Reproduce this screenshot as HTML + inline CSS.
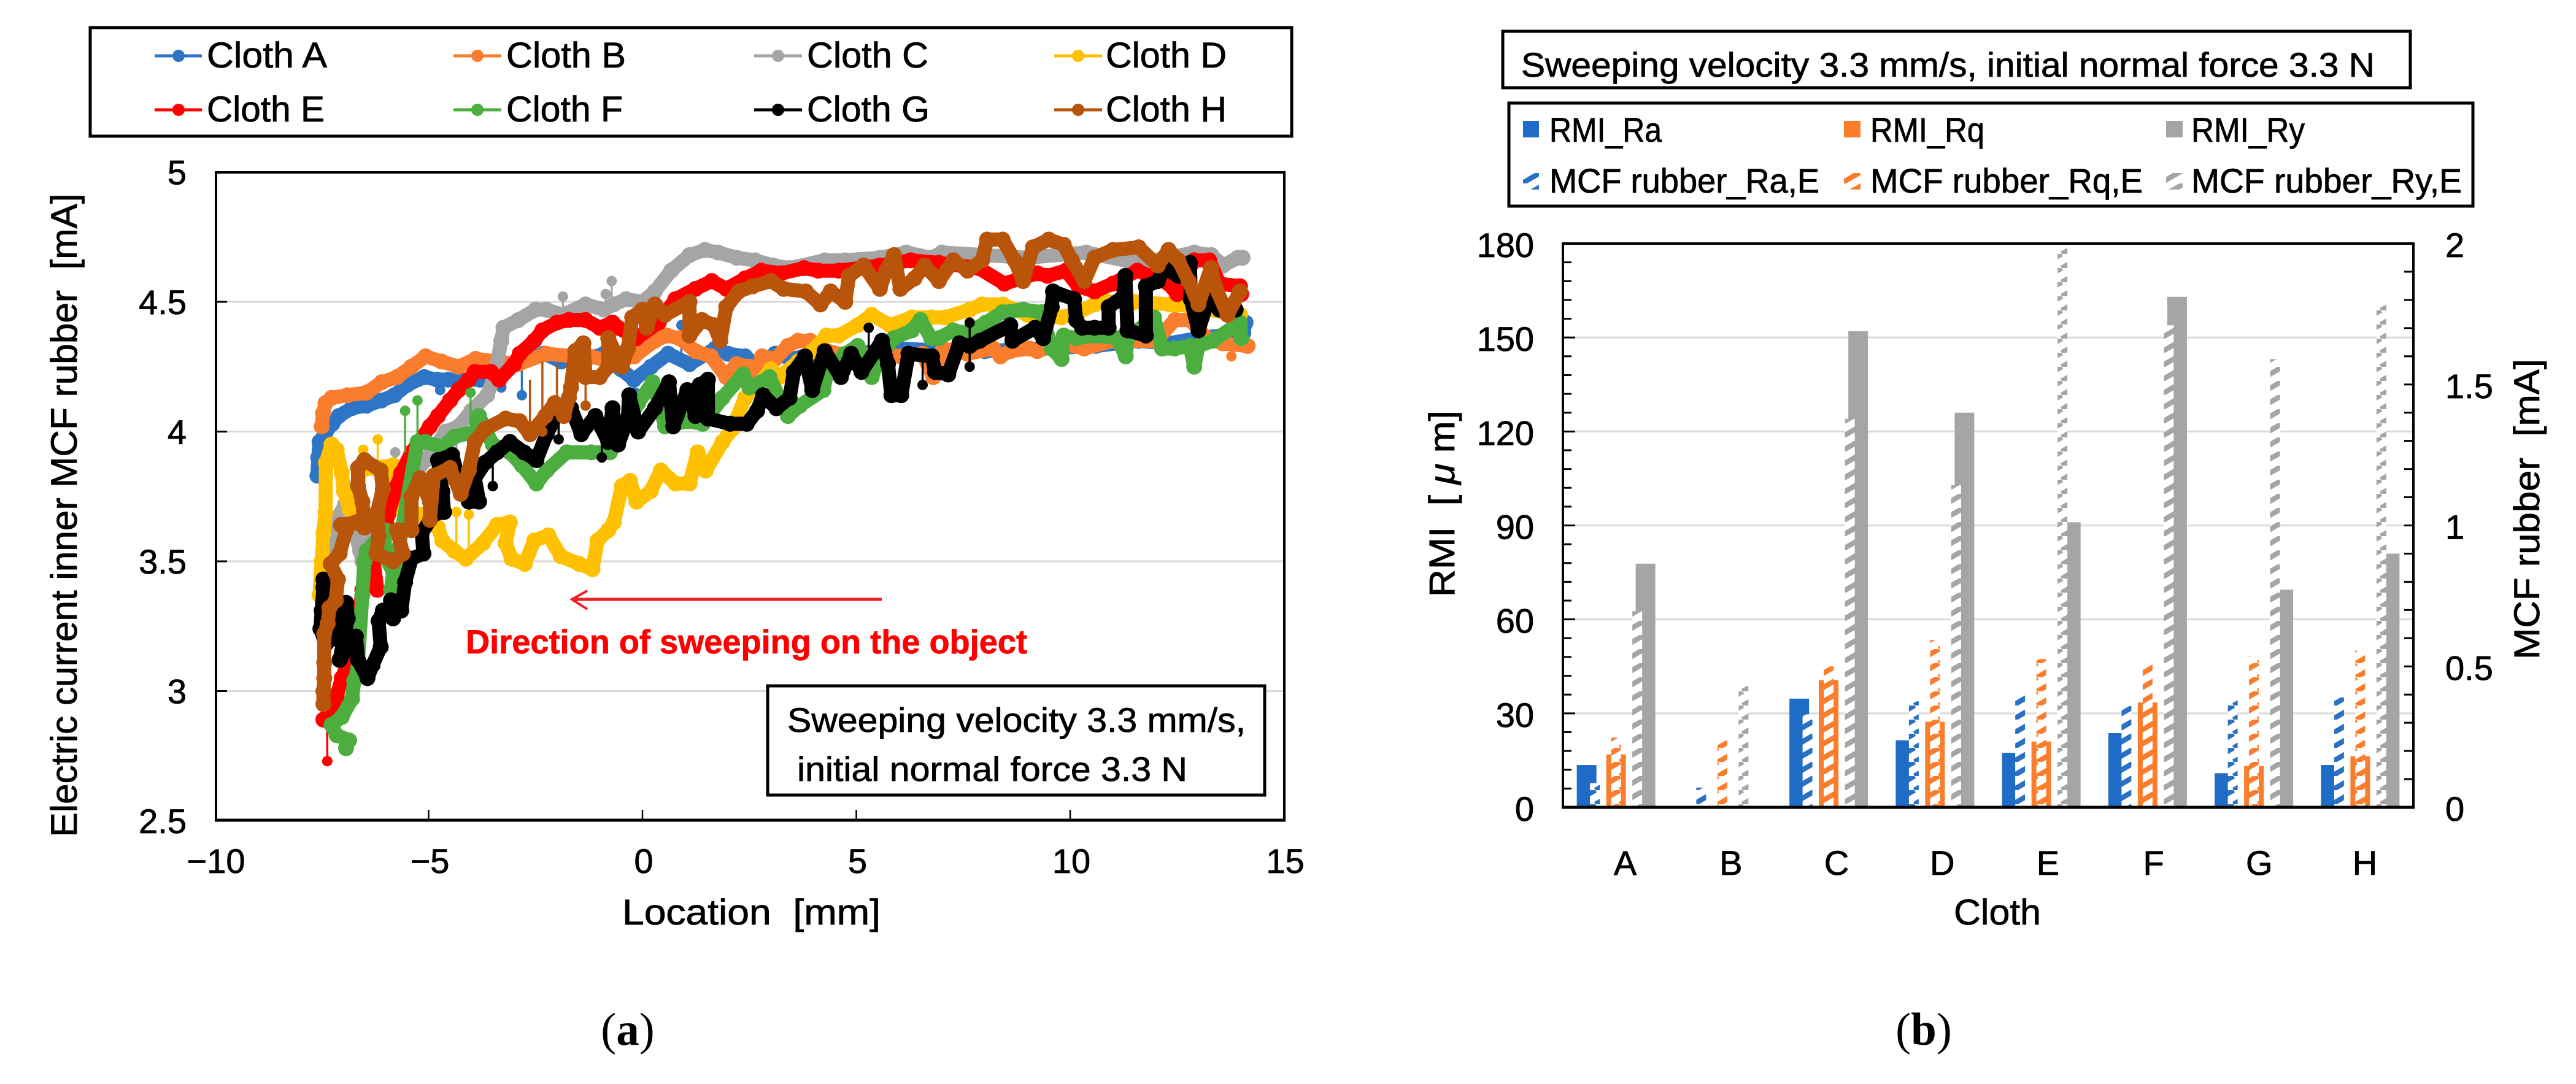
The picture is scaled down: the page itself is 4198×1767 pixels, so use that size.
<!DOCTYPE html>
<html lang="en">
<head>
<meta charset="utf-8">
<title>Cloth sweeping: MCF rubber current and RMI</title>
<style>
html,body{margin:0;padding:0;background:#fff;}
svg{display:block;}
text{font-family:"Liberation Sans",sans-serif;fill:#000;stroke:#000;stroke-width:0.8px;}
.tick{font-size:56px;}
.leg{font-size:58px;}
.legb{font-size:56px;}
.cap{font-family:"Liberation Serif",serif;font-size:75px;stroke-width:0;}
</style>
</head>
<body>
<svg id="figure" xmlns="http://www.w3.org/2000/svg" width="4198" height="1767" viewBox="0 0 4198 1767">
<defs>
<pattern id="hatch-blue" patternUnits="userSpaceOnUse" width="40" height="23"><rect width="40" height="23" fill="#fff"/><path d="M0 23L40 0M-40 23L0 0M40 23L80 0" stroke="#2a70c4" stroke-width="8.5"/></pattern>
<pattern id="hatch-orange" patternUnits="userSpaceOnUse" width="40" height="23"><rect width="40" height="23" fill="#fff"/><path d="M0 23L40 0M-40 23L0 0M40 23L80 0" stroke="#f97d2c" stroke-width="8.5"/></pattern>
<pattern id="hatch-gray" patternUnits="userSpaceOnUse" width="40" height="23"><rect width="40" height="23" fill="#fff"/><path d="M0 23L40 0M-40 23L0 0M40 23L80 0" stroke="#a5a5a5" stroke-width="8.5"/></pattern>
</defs>
<rect width="4198" height="1767" fill="#fff"/>

<!-- Panel (a) -->
<g id="a-grid"></g>
<g id="a-series"></g>
<rect x="352" y="281" width="1741" height="1056" fill="none" stroke="#000" stroke-width="4"/>
<line x1="350" y1="1337" x2="2095" y2="1337" stroke="#000" stroke-width="5"/>
<g id="a-ticks"></g>
<text transform="rotate(-90 125 840)" x="125" y="840" text-anchor="middle" font-size="60" textLength="1049" lengthAdjust="spacingAndGlyphs" style="font-size:60px">Electric current inner MCF rubber &#160;[mA]</text>
<text x="1014" y="1507" font-size="58" textLength="421" lengthAdjust="spacingAndGlyphs" style="font-size:58px">Location &#160;[mm]</text>

<g>
<rect x="147" y="45" width="1958" height="177" fill="#fff" stroke="#000" stroke-width="5"/>
<g><line x1="252" y1="91" x2="329" y2="91" stroke="#2e75c6" stroke-width="5"/><circle cx="291" cy="91" r="10" fill="#2e75c6"/><text class="leg" x="337" y="110" textLength="196" lengthAdjust="spacingAndGlyphs">Cloth A</text></g>
<g><line x1="739" y1="91" x2="817" y2="91" stroke="#f97d2c" stroke-width="5"/><circle cx="778" cy="91" r="10" fill="#f97d2c"/><text class="leg" x="825" y="110" textLength="195" lengthAdjust="spacingAndGlyphs">Cloth B</text></g>
<g><line x1="1229" y1="91" x2="1307" y2="91" stroke="#a5a5a5" stroke-width="5"/><circle cx="1268" cy="91" r="10" fill="#a5a5a5"/><text class="leg" x="1315" y="110" textLength="198" lengthAdjust="spacingAndGlyphs">Cloth C</text></g>
<g><line x1="1718" y1="91" x2="1796" y2="91" stroke="#ffc000" stroke-width="5"/><circle cx="1757" cy="91" r="10" fill="#ffc000"/><text class="leg" x="1802" y="110" textLength="197" lengthAdjust="spacingAndGlyphs">Cloth D</text></g>
<g><line x1="252" y1="179" x2="329" y2="179" stroke="#ff0000" stroke-width="5"/><circle cx="291" cy="179" r="10" fill="#ff0000"/><text class="leg" x="337" y="198" textLength="192" lengthAdjust="spacingAndGlyphs">Cloth E</text></g>
<g><line x1="739" y1="179" x2="817" y2="179" stroke="#4bae3f" stroke-width="5"/><circle cx="778" cy="179" r="10" fill="#4bae3f"/><text class="leg" x="825" y="198" textLength="190" lengthAdjust="spacingAndGlyphs">Cloth F</text></g>
<g><line x1="1229" y1="179" x2="1307" y2="179" stroke="#000" stroke-width="5"/><circle cx="1268" cy="179" r="10" fill="#000"/><text class="leg" x="1315" y="198" textLength="200" lengthAdjust="spacingAndGlyphs">Cloth G</text></g>
<g><line x1="1718" y1="179" x2="1796" y2="179" stroke="#b9540b" stroke-width="5"/><circle cx="1757" cy="179" r="10" fill="#b9540b"/><text class="leg" x="1802" y="198" textLength="197" lengthAdjust="spacingAndGlyphs">Cloth H</text></g>
</g>

<g>
<line x1="1437" y1="977" x2="933" y2="977" stroke="#ee1c25" stroke-width="5"/>
<polyline points="957,963 932,977 957,993" fill="none" stroke="#ee1c25" stroke-width="4"/>
</g>
<text x="759" y="1065" font-weight="bold" textLength="915" lengthAdjust="spacingAndGlyphs" style="fill:#ff0000;stroke:#ff0000;font-size:55px;font-weight:bold">Direction of sweeping on the object</text>

<g>
<rect x="1251" y="1118" width="810" height="178" fill="#fff" stroke="#000" stroke-width="5"/>
<text x="1283" y="1193" textLength="747" lengthAdjust="spacingAndGlyphs" style="font-size:56px">Sweeping velocity 3.3 mm/s,</text>
<text x="1299" y="1273" textLength="636" lengthAdjust="spacingAndGlyphs" style="font-size:56px">initial normal force 3.3 N</text>
</g>
<text class="cap" x="1023" y="1703" text-anchor="middle">(<tspan font-weight="bold">a</tspan>)</text>

<!-- Panel (b) -->
<g>
<rect x="2449" y="51" width="1479" height="92" fill="#fff" stroke="#000" stroke-width="5"/>
<text x="2479" y="125" textLength="1391" lengthAdjust="spacingAndGlyphs" style="font-size:56px">Sweeping velocity 3.3 mm/s, initial normal force 3.3 N</text>
</g>
<g>
<rect x="2459" y="168" width="1571" height="168" fill="#fff" stroke="#000" stroke-width="5"/>
<g><rect x="2482" y="197" width="26" height="27" fill="#1f6cc6"/><text class="legb" x="2525" y="231" textLength="183" lengthAdjust="spacingAndGlyphs">RMI_Ra</text></g>
<g><rect x="3005" y="197" width="27" height="27" fill="#fb7d2b"/><text class="legb" x="3048" y="231" textLength="186" lengthAdjust="spacingAndGlyphs">RMI_Rq</text></g>
<g><rect x="3530" y="197" width="27" height="27" fill="#a5a5a5"/><text class="legb" x="3571" y="231" textLength="185" lengthAdjust="spacingAndGlyphs">RMI_Ry</text></g>
<g><rect x="2482" y="282" width="26" height="27" fill="url(#hatch-blue)"/><text class="legb" x="2525" y="314" textLength="440" lengthAdjust="spacingAndGlyphs">MCF rubber_Ra,E</text></g>
<g><rect x="3005" y="282" width="27" height="27" fill="url(#hatch-orange)"/><text class="legb" x="3048" y="314" textLength="444" lengthAdjust="spacingAndGlyphs">MCF rubber_Rq,E</text></g>
<g><rect x="3530" y="282" width="27" height="27" fill="url(#hatch-gray)"/><text class="legb" x="3571" y="314" textLength="441" lengthAdjust="spacingAndGlyphs">MCF rubber_Ry,E</text></g>
</g>
<g id="b-grid"></g>
<g id="b-bars"></g>
<rect x="2547" y="397" width="1386" height="919" fill="none" stroke="#000" stroke-width="4"/>
<line x1="2545" y1="1316" x2="3935" y2="1316" stroke="#000" stroke-width="5"/>
<g id="b-ticks"></g>
<text transform="rotate(-90 2370 821)" x="2370" y="821" text-anchor="middle" textLength="304" lengthAdjust="spacingAndGlyphs" style="font-size:58px">RMI &#160;[ <tspan font-style="italic">&#956;</tspan> m]</text>
<text transform="rotate(-90 4138 830)" x="4138" y="830" text-anchor="middle" textLength="490" lengthAdjust="spacingAndGlyphs" style="font-size:58px">MCF rubber &#160;[mA]</text>
<text x="3184" y="1507" textLength="142" lengthAdjust="spacingAndGlyphs" style="font-size:58px">Cloth</text>
<text class="cap" x="3135" y="1703" text-anchor="middle">(<tspan font-weight="bold">b</tspan>)</text>

<script>
// ---------- Panel (a) data: [location mm, current mA] ----------
const lineYTicks = [2.5, 3, 3.5, 4, 4.5, 5];
const lineYLabels = ['2.5', '3', '3.5', '4', '4.5', '5'];
const lineXTicks = [-10, -5, 0, 5, 10, 15];
const lineXLabels = ['\u221210', '\u22125', '0', '5', '10', '15'];

const clothA = [[-7.6,3.83],[-7.58,3.9],[-7.55,3.96],[-7.4,4.0],[-7.25,4.03],[-7.1,4.06],[-6.8,4.09],[-6.45,4.1],[-6.1,4.12],[-5.8,4.14],[-5.5,4.18],[-5.1,4.21],[-4.8,4.2],[-4.55,4.2],[-4.3,4.2],[-3.8,4.2],[-3.35,4.25],[-2.9,4.27],[-2.3,4.3],[-1.9,4.27],[-1.6,4.3],[-1.3,4.28],[-0.9,4.3],[-0.5,4.24],[-0.2,4.2],[0.2,4.25],[0.6,4.3],[1.1,4.26],[1.7,4.32],[2,4.3],[2.4,4.29],[2.7,4.25],[3.1,4.3],[3.5,4.28],[4,4.3],[5,4.3],[6,4.32],[7.2,4.31],[8,4.31],[9.3,4.32],[10.6,4.33],[11.6,4.35],[12.3,4.34],[13,4.36],[14.05,4.38],[14.1,4.42]];
const clothB = [[-7.5,4.02],[-7.47,4.07],[-7.41,4.11],[-7.27,4.13],[-6.9,4.14],[-6.45,4.15],[-6.1,4.19],[-5.74,4.21],[-5.4,4.25],[-5.07,4.29],[-4.7,4.27],[-4.3,4.25],[-3.9,4.28],[-3.4,4.27],[-2.9,4.26],[-2.25,4.3],[-1.6,4.29],[-1.24,4.29],[-0.7,4.27],[-0.19,4.29],[0.29,4.35],[0.57,4.37],[0.86,4.36],[1.24,4.31],[1.6,4.29],[1.96,4.21],[2.2,4.26],[2.5,4.25],[2.65,4.22],[2.8,4.29],[3.1,4.28],[3.4,4.33],[3.64,4.35],[3.92,4.35],[4.16,4.32],[4.8,4.29],[5.4,4.3],[6.03,4.29],[6.55,4.3],[6.8,4.21],[7.03,4.32],[7.6,4.3],[8.2,4.32],[8.37,4.29],[8.6,4.31],[9.04,4.32],[9.23,4.31],[9.8,4.34],[10.33,4.32],[11,4.35],[12,4.35],[12.45,4.43],[12.8,4.43],[13.2,4.36],[13.57,4.34],[14.15,4.33]];
const clothC = [[-7.3,3.5],[-7.25,3.58],[-7.15,3.66],[-6.95,3.72],[-6.85,3.78],[-6.7,3.6],[-6.6,3.54],[-6.55,3.5],[-6.2,3.65],[-5.8,3.8],[-5.4,3.82],[-5.07,3.89],[-4.8,3.95],[-4.6,4.0],[-4.3,4.02],[-4.0,4.08],[-3.63,4.14],[-3.45,4.22],[-3.3,4.35],[-3.25,4.4],[-2.9,4.43],[-2.5,4.47],[-2.25,4.47],[-1.86,4.45],[-1.33,4.49],[-0.9,4.47],[-0.67,4.49],[-0.38,4.51],[0,4.5],[0.29,4.54],[0.67,4.62],[1.1,4.68],[1.46,4.7],[1.77,4.69],[2.2,4.67],[2.63,4.66],[3.06,4.64],[3.45,4.63],[4.26,4.66],[4.74,4.66],[5.55,4.67],[6.17,4.69],[6.75,4.67],[7,4.69],[8,4.68],[9,4.67],[10.38,4.69],[11.57,4.65],[12.3,4.67],[12.9,4.69],[13.3,4.68],[13.58,4.64],[13.92,4.67],[14.03,4.67]];
const clothD = [[-7.55,3.37],[-7.5,3.5],[-7.46,3.61],[-7.41,3.69],[-7.4,3.88],[-7.27,3.95],[-7.15,3.93],[-7.03,3.84],[-6.98,3.77],[-6.85,3.7],[-6.7,3.75],[-6.6,3.85],[-6.3,3.86],[-5.83,3.87],[-5.7,3.75],[-5.64,3.7],[-5.2,3.68],[-4.78,3.63],[-4.68,3.58],[-4.4,3.54],[-4.13,3.51],[-3.73,3.57],[-3.4,3.64],[-3.1,3.65],[-3.2,3.57],[-3.06,3.51],[-2.75,3.49],[-2.53,3.58],[-2.2,3.6],[-1.91,3.52],[-1.48,3.49],[-1.17,3.47],[-1.05,3.58],[-0.8,3.62],[-0.67,3.65],[-0.48,3.79],[-0.29,3.81],[-0.14,3.73],[0.19,3.77],[0.43,3.85],[0.77,3.8],[1.1,3.8],[1.29,3.92],[1.48,3.85],[1.87,3.96],[2.1,4.01],[2.4,4.13],[2.7,4.18],[3.0,4.24],[3.2,4.21],[3.64,4.27],[3.97,4.31],[4.3,4.37],[4.59,4.37],[5.03,4.41],[5.36,4.45],[5.79,4.41],[6.3,4.44],[6.75,4.44],[7.08,4.44],[7.65,4.47],[7.94,4.49],[8.42,4.49],[9.0,4.45],[9.8,4.44],[10.2,4.46],[10.57,4.49],[10.86,4.5],[11.5,4.5],[12.34,4.49],[12.53,4.49],[13.2,4.47],[13.97,4.45]];
const clothE = [[-7.46,2.89],[-7.3,2.92],[-7.15,2.98],[-7.03,3.05],[-6.91,3.1],[-6.75,3.22],[-6.6,3.32],[-6.55,3.39],[-6.26,3.44],[-6.2,3.39],[-6.29,3.5],[-6.07,3.56],[-5.95,3.68],[-5.74,3.79],[-5.64,3.84],[-5.4,3.92],[-4.97,4.02],[-4.78,4.06],[-4.5,4.12],[-4.3,4.16],[-4.06,4.2],[-3.92,4.23],[-3.54,4.23],[-3.35,4.2],[-3.0,4.26],[-2.87,4.3],[-2.53,4.35],[-2.34,4.39],[-2,4.42],[-1.72,4.43],[-1.33,4.43],[-1.0,4.4],[-0.7,4.42],[-0.57,4.4],[-0.14,4.36],[0.38,4.42],[0.77,4.51],[1.24,4.55],[1.62,4.58],[1.96,4.55],[2.4,4.59],[2.78,4.62],[3.25,4.61],[3.78,4.63],[4.11,4.62],[4.59,4.62],[5.55,4.64],[6.27,4.66],[6.93,4.65],[7.86,4.63],[8.46,4.57],[9.23,4.61],[9.47,4.6],[9.9,4.62],[10.19,4.56],[10.57,4.54],[11,4.57],[11.57,4.62],[12.3,4.57],[12.5,4.53],[12.9,4.66],[13.25,4.66],[13.49,4.57],[13.97,4.56],[14.0,4.53]];
const clothF = [[-6.93,2.78],[-6.86,2.81],[-7.15,2.83],[-7.27,2.87],[-7.03,2.9],[-6.79,2.97],[-6.74,3.04],[-6.67,3.07],[-6.55,3.37],[-6.5,3.5],[-6.45,3.54],[-6.02,3.62],[-6.03,3.52],[-5.83,3.46],[-5.88,3.39],[-5.7,3.55],[-5.26,3.96],[-5.07,3.96],[-4.68,3.94],[-4.4,3.98],[-3.9,4.0],[-3.82,4.06],[-3.5,3.95],[-3.1,3.92],[-2.82,3.87],[-2.48,3.8],[-2.24,3.85],[-1.77,3.92],[-1.2,3.92],[-0.76,3.92],[-0.4,4.02],[-0.1,4.11],[0.24,4.19],[0.4,4.1],[0.53,4.02],[1.05,4.04],[1.41,4.03],[1.87,4.13],[2.35,4.22],[2.5,4.17],[2.97,4.21],[3.4,4.06],[3.68,4.1],[4.23,4.16],[4.31,4.22],[4.74,4.3],[5.03,4.33],[5.36,4.21],[5.6,4.3],[5.88,4.36],[6.3,4.39],[6.5,4.43],[6.75,4.36],[6.93,4.36],[7.27,4.39],[7.6,4.38],[8.03,4.42],[8.42,4.46],[8.9,4.47],[9.33,4.46],[9.57,4.32],[9.8,4.28],[9.85,4.37],[10.14,4.36],[10.62,4.37],[11.1,4.36],[11.3,4.29],[11.34,4.36],[11.96,4.44],[12.15,4.32],[12.44,4.32],[12.8,4.33],[12.9,4.25],[13.0,4.33],[13.34,4.35],[13.97,4.42],[14.0,4.36]];
const clothG = [[-7.46,3.43],[-7.46,3.4],[-7.5,3.31],[-7.53,3.24],[-7.41,3.18],[-7.17,3.21],[-6.93,3.34],[-6.89,3.28],[-7.08,3.12],[-6.7,3.21],[-6.65,3.12],[-6.43,3.05],[-6.31,3.1],[-6.12,3.17],[-6.17,3.27],[-6.07,3.31],[-5.83,3.28],[-5.88,3.35],[-5.64,3.31],[-5.55,3.42],[-5.4,3.51],[-5.12,3.53],[-5.16,3.61],[-4.88,3.68],[-4.64,3.69],[-4.68,3.77],[-4.78,3.89],[-4.45,3.91],[-4.3,3.82],[-4.06,3.73],[-3.82,3.73],[-3.92,3.82],[-3.68,3.88],[-3.4,3.92],[-3.1,3.96],[-2.77,3.92],[-2.48,3.89],[-2.24,3.99],[-1.96,4.08],[-1.67,4.09],[-1.43,3.99],[-1.1,4.06],[-0.8,3.96],[-0.7,4.09],[-0.57,3.95],[-0.34,4.05],[-0.31,4.14],[-0.1,4.0],[0.29,4.09],[0.62,4.19],[0.72,4.02],[1.05,4.16],[1.24,4.06],[1.34,4.18],[1.53,4.2],[1.53,4.05],[2.05,4.03],[2.44,4.03],[2.68,4.08],[2.82,4.14],[3.13,4.09],[3.44,4.13],[3.54,4.23],[3.8,4.29],[3.97,4.16],[4.26,4.31],[4.64,4.21],[4.88,4.3],[5.12,4.23],[5.6,4.35],[5.74,4.26],[5.82,4.14],[6.05,4.14],[6.22,4.3],[6.77,4.29],[6.84,4.23],[7.15,4.22],[7.41,4.34],[7.65,4.33],[7.89,4.35],[8.6,4.41],[8.65,4.35],[9.18,4.4],[9.37,4.36],[9.57,4.48],[9.6,4.54],[10.09,4.51],[10.14,4.43],[10.28,4.4],[10.57,4.4],[10.9,4.4],[10.9,4.48],[11.24,4.52],[11.29,4.6],[11.34,4.39],[11.77,4.37],[11.77,4.56],[12.05,4.58],[12.2,4.63],[12.53,4.6],[12.8,4.65],[12.82,4.51],[13.0,4.39],[13.25,4.52],[13.49,4.47],[13.87,4.47]];
const clothH = [[-7.46,2.95],[-7.46,3.0],[-7.44,3.05],[-7.44,3.11],[-7.44,3.22],[-7.36,3.26],[-7.32,3.32],[-7.17,3.35],[-7.12,3.43],[-7.29,3.49],[-7.08,3.53],[-6.93,3.62],[-7.05,3.64],[-6.7,3.65],[-6.5,3.63],[-6.55,3.73],[-6.65,3.79],[-6.65,3.86],[-6.5,3.89],[-6.12,3.85],[-6.07,3.78],[-6.2,3.69],[-6.17,3.6],[-6.22,3.53],[-5.83,3.5],[-5.6,3.53],[-5.74,3.62],[-5.4,3.62],[-5.4,3.75],[-5.2,3.82],[-4.97,3.73],[-4.97,3.66],[-4.88,3.83],[-4.5,3.86],[-4.25,3.76],[-4.06,3.85],[-3.92,3.96],[-3.68,4.01],[-3.2,4.05],[-2.87,4.04],[-2.63,3.99],[-2.27,4.06],[-2.05,4.11],[-1.84,4.06],[-1.72,4.13],[-1.67,4.17],[-1.57,4.31],[-1.38,4.34],[-1.33,4.21],[-1.0,4.21],[-0.8,4.25],[-0.8,4.36],[-0.48,4.25],[-0.34,4.32],[-0.24,4.44],[0,4.47],[0.1,4.4],[0.29,4.49],[0.53,4.45],[1.1,4.5],[1.1,4.37],[1.39,4.43],[1.67,4.41],[1.82,4.35],[1.96,4.48],[2.25,4.54],[2.58,4.56],[3.0,4.58],[3.3,4.55],[3.82,4.54],[4.16,4.49],[4.4,4.54],[4.74,4.5],[4.83,4.6],[5.17,4.64],[5.55,4.55],[5.7,4.62],[5.88,4.68],[6.03,4.55],[6.36,4.59],[6.6,4.64],[6.93,4.58],[7.27,4.66],[7.6,4.62],[7.94,4.66],[8.06,4.74],[8.42,4.74],[8.7,4.66],[8.9,4.58],[9.13,4.71],[9.5,4.74],[9.85,4.72],[10.04,4.66],[10.33,4.58],[10.57,4.67],[11,4.7],[11.6,4.71],[12.05,4.64],[12.3,4.7],[12.53,4.66],[12.77,4.58],[13,4.49],[13.29,4.63],[13.39,4.56],[13.68,4.45],[13.97,4.54]];

// Thin-line outliers: [location, current at the tip, current where the spike leaves the trace]
const spikesA = [[-2.82,4.14,4.27],[-3.3,4.17,4.25],[-4.73,4.16,4.2],[0.91,4.41,4.3],[-0.17,4.15,4.2]];
const spikesB = [[13.77,4.29,4.36]];
const spikesC = [[-5.78,3.92,3.75],[-1.86,4.52,4.45],[-0.86,4.53,4.47],[-0.72,4.58,4.47],[-4.35,4.01,3.9]];
const spikesD = [[-6.53,3.93,3.8],[-6.19,3.97,3.85],[-4.35,3.69,3.55],[-4.06,3.68,3.53]];
const spikesE = [[-7.37,2.73,2.9]];
const spikesF = [[-5.26,4.12,3.96],[-4.02,4.15,3.92],[-5.55,4.08,3.92]];
const spikesG = [[-3.5,3.79,3.9],[-1.96,3.97,4.08],[-0.95,3.9,4.05],[7.65,4.42,4.35],[7.65,4.25,4.35],[6.55,4.18,4.28],[5.29,4.4,4.27]];
const spikesH = [[-2.63,3.99,4.2],[-2.34,4.0,4.27],[-1.33,4.1,4.34],[-2.0,4.1,4.26]];

const lineSeries = [clothA, clothB, clothC, clothD, clothE, clothF, clothG, clothH];
const lineSpikes = [spikesA, spikesB, spikesC, spikesD, spikesE, spikesF, spikesG, spikesH];
const lineNames = ['cloth-a', 'cloth-b', 'cloth-c', 'cloth-d', 'cloth-e', 'cloth-f', 'cloth-g', 'cloth-h'];
const lineColors = ['#2e75c6', '#f97d2c', '#a5a5a5', '#ffc000', '#ff0000', '#4bae3f', '#000000', '#b9540b'];

// ---------- Panel (b) data ----------
const categories = ['A', 'B', 'C', 'D', 'E', 'F', 'G', 'H'];
const rmiRa = [13.5, 0.3, 34.7, 21.4, 17.4, 23.7, 10.9, 13.5];
const rmiRq = [16.9, 0.3, 40.6, 27.3, 21, 33.5, 13.2, 16.3];
const rmiRy = [77.8, 0.3, 152, 126, 91, 163, 69.5, 81];
const mcfRa = [0.086, 0.07, 0.33, 0.376, 0.406, 0.359, 0.38, 0.39];
const mcfRq = [0.247, 0.237, 0.5, 0.593, 0.526, 0.516, 0.536, 0.556];
const mcfRy = [0.696, 0.43, 1.378, 1.143, 2.0, 1.71, 1.59, 1.795];
const leftTicks = [0, 30, 60, 90, 120, 150, 180];
const rightTicks = [0, 0.5, 1, 1.5, 2];
const rightLabels = ['0', '0.5', '1', '1.5', '2'];

const NS = 'http://www.w3.org/2000/svg';
function mk(tag, parent, attrs) {
  const n = document.createElementNS(NS, tag);
  for (const k in attrs) n.setAttribute(k, attrs[k]);
  parent.appendChild(n);
  return n;
}
const lx = v => 1047 + v * 69.7;
const ly = v => 1338 - (v - 2.5) * 423;
const rmiY = v => 1316 - v * (919 / 180);
const mcfY = v => 1316 - v * (919 / 2);
const catX = i => 2547 + (i + 0.5) * 173.25;

// Panel (a) grid, ticks
const aGrid = document.getElementById('a-grid');
const aTicks = document.getElementById('a-ticks');
lineYTicks.forEach((t, i) => {
  if (t > 2.5 && t < 5) {
    const g = mk('line', aGrid, {x1: 352, x2: 2093, y1: ly(t), y2: ly(t), stroke: '#d9d9d9', 'stroke-width': 3});
    
    
    const k = mk('line', aTicks, {x1: 352, x2: 370, y1: ly(t), y2: ly(t), stroke: '#000', 'stroke-width': 3});
    
    
  }
  const l = mk('text', aTicks, {class: 'tick', x: 304, y: ly(t) + 20, 'text-anchor': 'end'});
  l.textContent = lineYLabels[i];
  
  
});
lineXTicks.forEach((t, i) => {
  if (t > -10 && t < 15) {
    const k = mk('line', aTicks, {x1: lx(t), x2: lx(t), y1: 1337, y2: 1320, stroke: '#000', 'stroke-width': 2.5});
    
    
  }
  const l = mk('text', aTicks, {class: 'tick', x: lx(t) + 2, y: 1423, 'text-anchor': 'middle'});
  l.textContent = lineXLabels[i];
  
  
});

// Panel (a) series: markers overlap into a wide noisy band, so the connecting path is as wide as the markers
const aSeries = document.getElementById('a-series');
lineSeries.forEach((pts, s) => {
  const color = lineColors[s];
  const g = mk('g', aSeries, {});
  
  
  const path = mk('polyline', g, {points: pts.map(p => lx(p[0]) + ',' + ly(p[1])).join(' '), fill: 'none', stroke: color, 'stroke-width': 23, 'stroke-linejoin': 'round', 'stroke-linecap': 'round'});
  
  
  pts.forEach(p => {
    const c = mk('circle', g, {cx: lx(p[0]), cy: ly(p[1]), r: 13, fill: color});
    
    
  });
  lineSpikes[s].forEach(p => {
    const t = mk('line', g, {x1: lx(p[0]), x2: lx(p[0]), y1: ly(p[1]), y2: ly(p[2]), stroke: color, 'stroke-width': 3.5});
    
    
    const c = mk('circle', g, {cx: lx(p[0]), cy: ly(p[1]), r: 8.5, fill: color});
    
    
  });
});

// Panel (b) grid, ticks
const bGrid = document.getElementById('b-grid');
const bTicks = document.getElementById('b-ticks');
leftTicks.forEach(t => {
  if (t > 0 && t < 180) {
    const g = mk('line', bGrid, {x1: 2567, x2: 3933, y1: rmiY(t), y2: rmiY(t), stroke: '#d9d9d9', 'stroke-width': 3});
    
    
    const k = mk('line', bTicks, {x1: 2547, x2: 2567, y1: rmiY(t), y2: rmiY(t), stroke: '#000', 'stroke-width': 3});
    
    
  }
  const l = mk('text', bTicks, {class: 'tick', x: 2500, y: rmiY(t) + 22, 'text-anchor': 'end'});
  l.textContent = String(t);
  
  
});
for (let v = 6; v < 180; v += 6) {
  if (v % 30 === 0) continue;
  const k = mk('line', bTicks, {x1: 2547, x2: 2561, y1: rmiY(v), y2: rmiY(v), stroke: '#000', 'stroke-width': 3});
  
  
}
for (let n = 1; n < 20; n++) {
  const k = mk('line', bTicks, {x1: 3933, x2: 3918, y1: mcfY(n / 10), y2: mcfY(n / 10), stroke: '#000', 'stroke-width': 3});
  
  
}
rightTicks.forEach((t, i) => {
  const l = mk('text', bTicks, {class: 'tick', x: 3985, y: mcfY(t) + 22});
  l.textContent = rightLabels[i];
  
  
});
categories.forEach((c, i) => {
  const l = mk('text', bTicks, {class: 'tick', x: 2648.6 + i * 172.2, y: 1426, 'text-anchor': 'middle'});
  l.textContent = c;
  
  
});

// Panel (b) bars: solid bars on the RMI axis, hatched bars on the MCF axis drawn above
const bBars = document.getElementById('b-bars');
const solidSets = [[rmiRa, '#1f6cc6', -48, 'bar-rmi-ra'], [rmiRq, '#fb7d2b', 0, 'bar-rmi-rq'], [rmiRy, '#a5a5a5', 48, 'bar-rmi-ry']];
const hatchSets = [[mcfRa, 'url(#hatch-blue)', -34.5, 'bar-mcf-ra'], [mcfRq, 'url(#hatch-orange)', 0, 'bar-mcf-rq'], [mcfRy, 'url(#hatch-gray)', 34.5, 'bar-mcf-ry']];
solidSets.forEach(set => {
  set[0].forEach((v, i) => {
    const y = rmiY(v);
    const r = mk('rect', bBars, {x: catX(i) + set[2] - 16, y: y, width: 32, height: 1316 - y, fill: set[1]});
    
    
  });
});
hatchSets.forEach(set => {
  set[0].forEach((v, i) => {
    const y = mcfY(v);
    const r = mk('rect', bBars, {x: catX(i) + set[2] - 8, y: y, width: 16, height: 1316 - y, fill: set[1]});
    
    
  });
});
</script>
</svg>
</body>
</html>
